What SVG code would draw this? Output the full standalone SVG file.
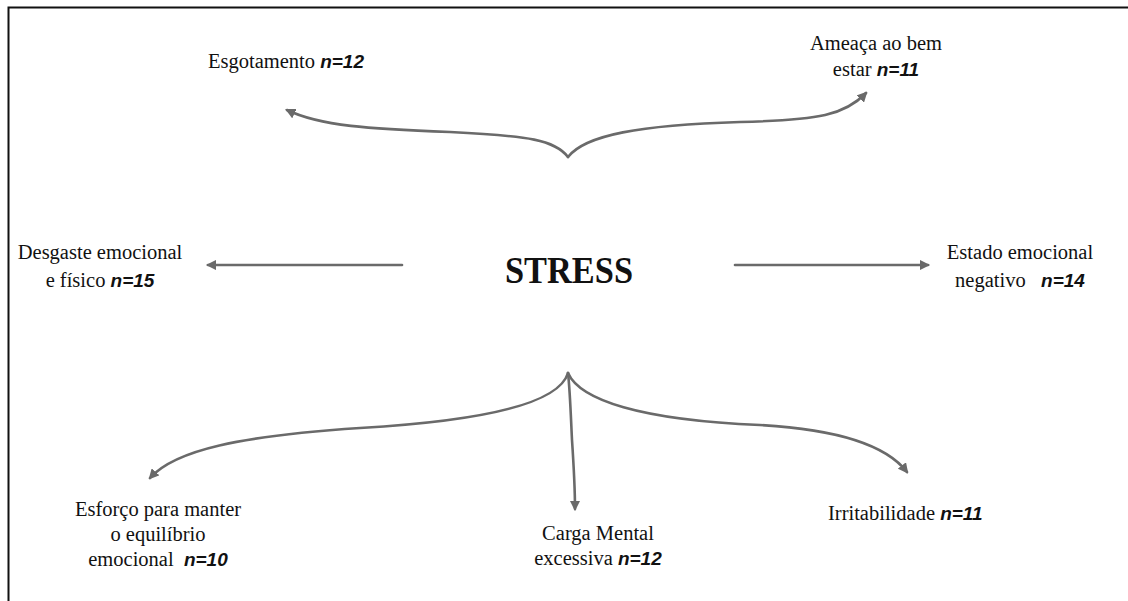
<svg xmlns="http://www.w3.org/2000/svg" width="1128" height="601" viewBox="0 0 1128 601">
<style>
.t{font-family:"Liberation Serif","DejaVu Serif",serif;font-size:20.5px;fill:#111}
.b{font-family:"Liberation Sans","DejaVu Sans",sans-serif;font-size:19px;font-weight:bold;font-style:italic}
.c{fill:none;stroke:#6a6a6a;stroke-width:2.6;stroke-linecap:round}
</style>
<defs>
<marker id="ah" viewBox="0 0 10 10" refX="8" refY="5" markerWidth="4" markerHeight="4" orient="auto" markerUnits="strokeWidth">
<path d="M0,0 L10,5 L0,10 Z" fill="#6a6a6a"/>
</marker>
</defs>
<rect width="1128" height="601" fill="#fff"/>
<path d="M8.5,601 V7.5 H1128" fill="none" stroke="#111" stroke-width="2"/>
<g id="connectors">
<path class="c" marker-end="url(#ah)" d="M568,157 C555,140 530,136 450,132 C370,129 320,126 287,110"/>
<path class="c" marker-end="url(#ah)" d="M568,157 C585,135 640,125 740,122 C820,120 845,115 866,93"/>
<path class="c" marker-end="url(#ah)" d="M402,265 H208"/>
<path class="c" marker-end="url(#ah)" d="M735,265 H928"/>
<path class="c" marker-end="url(#ah)" d="M568,373 C560,400 500,420 360,428 C240,436 175,450 150,478"/>
<path class="c" marker-end="url(#ah)" d="M568,373 C570,390 571,420 572,440 C574,470 575,490 575,509"/>
<path class="c" marker-end="url(#ah)" d="M568,373 C580,400 640,420 760,425 C850,430 890,450 907,472"/>
</g>
<g id="stress"><text x="569" y="283" text-anchor="middle" style="font-family:'Liberation Serif','DejaVu Serif',serif;font-weight:bold;font-size:38px;fill:#111" textLength="128" lengthAdjust="spacingAndGlyphs">STRESS</text></g>
<g id="esgotamento"><text class="t" x="208" y="68">Esgotamento <tspan class="b">n=12</tspan></text></g>
<g id="ameaca">
<text class="t" x="876" y="50" text-anchor="middle">Ameaça ao bem</text>
<text class="t" x="876" y="76" text-anchor="middle">estar <tspan class="b">n=11</tspan></text>
</g>
<g id="desgaste">
<text class="t" x="100" y="259" text-anchor="middle">Desgaste emocional</text>
<text class="t" x="100" y="287" text-anchor="middle">e físico <tspan class="b">n=15</tspan></text>
</g>
<g id="estado">
<text class="t" x="1020" y="259" text-anchor="middle">Estado emocional</text>
<text class="t" x="1020" y="287" text-anchor="middle" xml:space="preserve">negativo   <tspan class="b">n=14</tspan></text>
</g>
<g id="esforco">
<text class="t" x="158" y="516" text-anchor="middle">Esforço para manter</text>
<text class="t" x="158" y="541" text-anchor="middle">o equilíbrio</text>
<text class="t" x="158" y="566" text-anchor="middle" xml:space="preserve">emocional  <tspan class="b">n=10</tspan></text>
</g>
<g id="carga">
<text class="t" x="598" y="540" text-anchor="middle">Carga Mental</text>
<text class="t" x="598" y="565" text-anchor="middle">excessiva <tspan class="b">n=12</tspan></text>
</g>
<g id="irritabilidade"><text class="t" x="828" y="520">Irritabilidade <tspan class="b">n=11</tspan></text></g>
</svg>
